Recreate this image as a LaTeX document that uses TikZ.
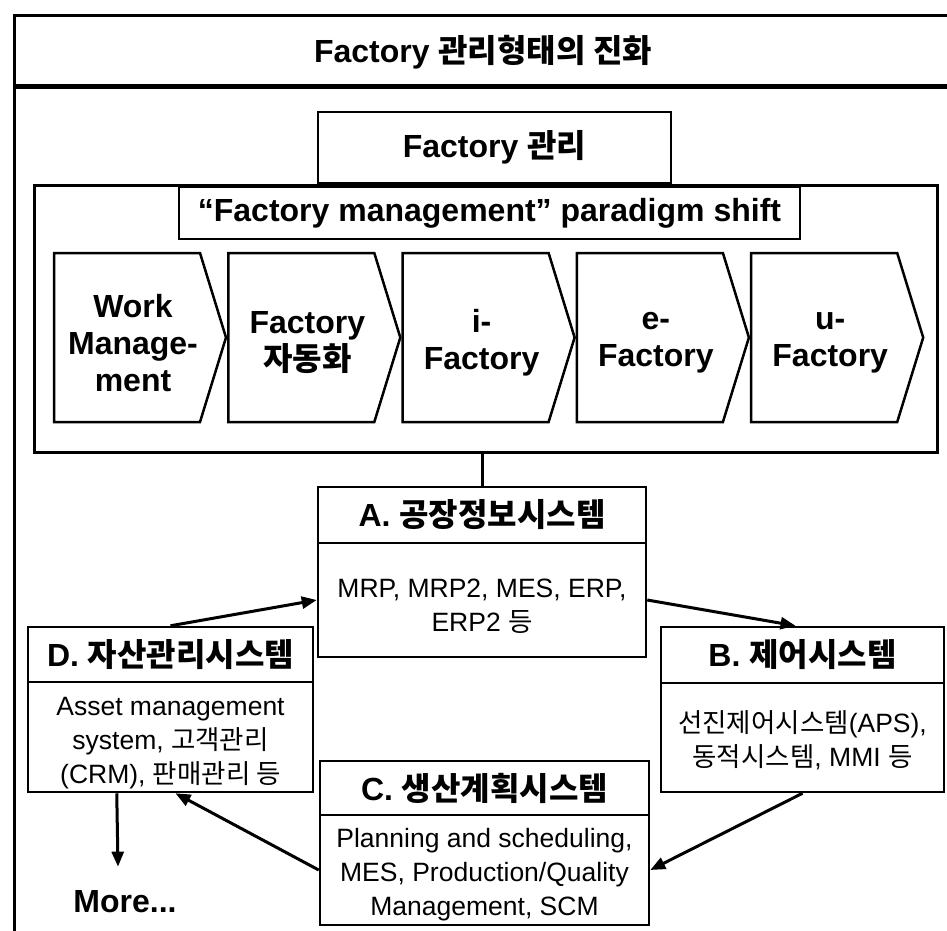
\documentclass[tikz,border=0pt]{standalone}
\usepackage{fontspec}
\setmainfont{Liberation Sans}
\newfontfamily\kr{Noto Sans CJK KR}
\usetikzlibrary{arrows.meta}
\begin{document}
\begin{tikzpicture}[x=1pt,y=-1pt,
  box/.style={draw, line width=2.5pt, inner sep=0pt, align=center},
  hd/.style={font=\fontsize{32}{37}\selectfont\bfseries, inner sep=0pt},
  bd/.style={font=\fontsize{26.5}{34}\selectfont},
  arr/.style={line width=3pt, -{Triangle[length=15pt,width=12pt]}},
  chev/.style={draw, line width=2.5pt, line join=miter},
]
\clip (0,0) rectangle (947,930);
% outer frame
\draw[line width=3pt] (14,960) -- (14,15) -- (980,15);
\draw[line width=5pt] (14,86) -- (980,86);
\node[hd] (title) at (483,52) {Factory {\kr 관리형태의 진화}};
% factory management
\node[box,hd,minimum width=353,minimum height=71] (fm) at (494.5,147.5) {Factory {\kr 관리}};
\node[box,line width=3pt,minimum width=903,minimum height=267] (big) at (485.5,318.5) {};
\node[box,hd,fill=white,minimum width=621,minimum height=52] (ps) at (489.5,213) {“Factory management” paradigm shift};
% chevrons
\foreach \i/\txt in {0/{Work\\Manage-\\ment},1/{Factory\\{\kr 자동화}},2/{i-\\Factory},3/{e-\\Factory},4/{u-\\Factory}} {
  \pgfmathsetmacro\L{54+174.3*\i}
  \draw[chev] (\L,253) -- (\L+146,253) -- (\L+172,337.5) -- (\L+146,422) -- (\L,422) -- cycle;
  \node[hd,align=center] (c\i) at (\L+79,343) {\txt};
}
% systems
\node[box,hd,minimum width=328,minimum height=56] (A) at (482,515) {A. {\kr 공장정보시스템}};
\node[box,bd,minimum width=328,minimum height=114] (Ab) at (482,600) {\rule{0pt}{30pt}MRP, MRP2, MES, ERP,\\ERP2 {\kr 등}};
\node[box,hd,minimum width=285,minimum height=55] (Dh) at (170.5,654.5) {D. {\kr 자산관리시스템}};
\node[box,bd,minimum width=285,minimum height=110] (Db) at (170.5,737) {\rule{0pt}{30pt}Asset management\\system, {\kr 고객관리}\\(CRM), {\kr 판매관리 등}};
\node[box,hd,minimum width=283,minimum height=56] (Bh) at (802.5,655) {B. {\kr 제어시스템}};
\node[box,bd,minimum width=283,minimum height=109] (Bb) at (802.5,737.5) {\rule{0pt}{28pt}{\kr 선진제어시스템}(APS),\\{\kr 동적시스템}, MMI {\kr 등}};
\node[box,hd,minimum width=329,minimum height=54] (Ch) at (484.5,788) {C. {\kr 생산계획시스템}};
\node[box,bd,minimum width=329,minimum height=110] (Cb) at (484.5,870) {\rule{0pt}{28pt}Planning and scheduling,\\MES, Production/Quality\\Management, SCM};
\node[hd] (more) at (125,902) {More...};
% connectors
\draw[line width=3pt] (big.south -| A.north) -- (A.north);
\draw[arr] (Dh.north) -- (Ab.west);
\draw[arr] (Ab.east) -- ([xshift=-7pt]Bh.north);
\draw[arr] (Bb.south) -- (Cb.east);
\draw[arr] (Cb.west) -- ([xshift=5pt]Db.south);
\draw[arr] ([xshift=90pt]Db.south west) -- ([xshift=-7pt,yshift=24pt]more.north);
\end{tikzpicture}
\end{document}
